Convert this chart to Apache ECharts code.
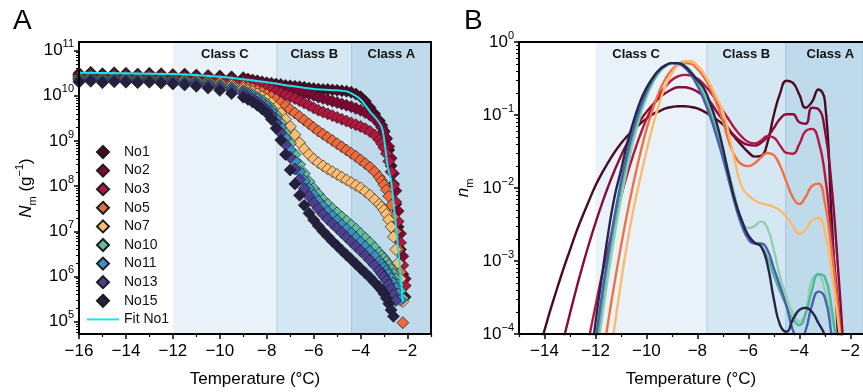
<!DOCTYPE html>
<html>
<head>
<meta charset="utf-8">
<script src="https://cdn.jsdelivr.net/npm/echarts@6.0.0/dist/echarts.min.js"></script>
<style>
  html, body { margin: 0; padding: 0; background: #fff; }
  #chart { width: 863px; height: 392px; }
</style>
</head>
<body>
<div id="chart"></div>
<script>
const FONT = 'Liberation Sans, Arial, Helvetica, sans-serif';

const seriesNames = ['No1', 'No2', 'No3', 'No5', 'No7', 'No10', 'No11', 'No13', 'No15'];
const colorsA = ['#4a0a24', '#850636', '#b3173f', '#ec6a3c', '#fdbd72', '#5dbf9f', '#3b8fc1', '#4b3f90', '#242040'];
const colorsB = ['#4a0a24', '#8a0a3a', '#b3173f', '#f0703f', '#fdb96c', '#8fd1ae', '#52b59c', '#4a5fae', '#27264a'];
const fitColor = '#14e6ef';

// ---- panel A: log10 of N_m (g^-1) against temperature ----
const aTemp = [-16, -15.5, -15, -14.5, -14, -13.5, -13, -12.5, -12, -11.5, -11, -10.5, -10, -9.5, -9,
  -8.8, -8.6, -8.4, -8.2, -8.0, -7.8, -7.6, -7.4, -7.2, -7.0, -6.8, -6.6, -6.4, -6.2, -6.0,
  -5.8, -5.6, -5.4, -5.2, -5.0, -4.8, -4.6, -4.4, -4.2, -4.0, -3.8, -3.6, -3.4, -3.2,
  -3.1, -3.0, -2.9, -2.8, -2.7, -2.6, -2.5, -2.4, -2.3, -2.2, -2.1, -2.0];

const aNo1 = [10.50, 10.52, 10.49, 10.51, 10.50, 10.48, 10.50, 10.49, 10.47, 10.48, 10.46, 10.45, 10.44, 10.42, 10.40,
  10.37, 10.35, 10.33, 10.31, 10.29, 10.28, 10.26, 10.25, 10.23, 10.22, 10.21, 10.20, 10.19, 10.17, 10.16,
  10.15, 10.14, 10.14, 10.13, 10.12, 10.11, 10.10, 10.08, 10.04, 9.98, 9.88, 9.74, 9.60, 9.45,
  9.35, 9.22, 9.05, 8.80, 8.45, 8.05, 7.60, 7.10, 6.60, 6.05, 5.55, null];
const aNo2 = [10.47, 10.49, 10.46, 10.48, 10.47, 10.46, 10.47, 10.45, 10.44, 10.44, 10.42, 10.41, 10.39, 10.37, 10.35,
  10.33, 10.31, 10.29, 10.27, 10.25, 10.23, 10.21, 10.19, 10.16, 10.14, 10.11, 10.09, 10.06, 10.04, 10.01,
  9.97, 9.94, 9.91, 9.88, 9.85, 9.82, 9.79, 9.76, 9.72, 9.68, 9.63, 9.57, 9.49, 9.38,
  9.30, 9.20, 9.06, 8.88, 8.62, 8.28, 7.90, 7.45, 6.95, 6.45, 5.95, null];
const aNo3 = [10.45, 10.47, 10.44, 10.46, 10.45, 10.44, 10.45, 10.43, 10.42, 10.41, 10.40, 10.38, 10.36, 10.33, 10.30,
  10.28, 10.26, 10.24, 10.21, 10.18, 10.14, 10.10, 10.06, 10.02, 9.98, 9.94, 9.89, 9.84, 9.79, 9.73,
  9.68, 9.64, 9.60, 9.56, 9.52, 9.48, 9.44, 9.40, 9.36, 9.32, 9.27, 9.21, 9.13, 9.02,
  8.94, 8.85, 8.72, 8.55, 8.32, 8.02, 7.65, 7.22, 6.75, 6.25, 5.80, null];
const aNo5 = [10.42, 10.44, 10.41, 10.43, 10.42, 10.41, 10.42, 10.40, 10.39, 10.38, 10.36, 10.34, 10.31, 10.27, 10.22,
  10.19, 10.16, 10.12, 10.08, 10.03, 9.98, 9.92, 9.85, 9.78, 9.70, 9.62, 9.54, 9.46, 9.38, 9.30,
  9.22, 9.15, 9.08, 9.01, 8.94, 8.87, 8.80, 8.73, 8.66, 8.58, 8.50, 8.42, 8.32, 8.20,
  8.12, 8.03, 7.92, 7.78, 7.58, 7.32, 7.00, 6.60, 6.10, 4.98, null, null];
const aNo7 = [10.40, 10.42, 10.39, 10.41, 10.40, 10.39, 10.40, 10.38, 10.37, 10.36, 10.34, 10.31, 10.28, 10.23, 10.17,
  10.13, 10.09, 10.04, 9.98, 9.92, 9.84, 9.74, 9.62, 9.48, 9.32, 9.14, 8.96, 8.82, 8.70, 8.60,
  8.52, 8.45, 8.38, 8.32, 8.26, 8.20, 8.14, 8.08, 8.02, 7.96, 7.88, 7.80, 7.70, 7.60,
  7.54, 7.47, 7.38, 7.26, 7.10, 6.88, 6.60, 6.30, 5.95, 5.45, null, null];
const aNo10 = [10.38, 10.40, 10.37, 10.39, 10.38, 10.37, 10.38, 10.36, 10.35, 10.33, 10.31, 10.28, 10.24, 10.19, 10.12,
  10.08, 10.03, 9.97, 9.90, 9.82, 9.72, 9.58, 9.40, 9.18, 8.94, 8.70, 8.48, 8.28, 8.10, 7.95,
  7.82, 7.70, 7.60, 7.50, 7.41, 7.32, 7.23, 7.14, 7.05, 6.95, 6.85, 6.75, 6.64, 6.52,
  6.46, 6.40, 6.33, 6.25, 6.16, 6.06, 5.95, 5.82, 5.68, 5.52, null, null];
const aNo11 = [10.36, 10.38, 10.35, 10.37, 10.36, 10.35, 10.36, 10.34, 10.33, 10.31, 10.29, 10.26, 10.22, 10.16, 10.09,
  10.04, 9.99, 9.93, 9.85, 9.77, 9.66, 9.50, 9.30, 9.06, 8.80, 8.55, 8.32, 8.12, 7.95, 7.80,
  7.67, 7.55, 7.44, 7.34, 7.24, 7.14, 7.05, 6.96, 6.86, 6.76, 6.66, 6.56, 6.45, 6.33,
  6.27, 6.20, 6.13, 6.05, 5.96, 5.86, 5.75, 5.62, 5.48, null, null, null];
const aNo13 = [10.33, 10.35, 10.32, 10.34, 10.33, 10.32, 10.33, 10.31, 10.30, 10.28, 10.26, 10.22, 10.18, 10.12, 10.05,
  9.99, 9.93, 9.86, 9.78, 9.69, 9.57, 9.40, 9.18, 8.92, 8.64, 8.38, 8.15, 7.95, 7.78, 7.63,
  7.50, 7.38, 7.27, 7.17, 7.07, 6.97, 6.87, 6.77, 6.67, 6.57, 6.47, 6.36, 6.25, 6.13,
  6.06, 5.99, 5.91, 5.82, 5.72, 5.60, 5.47, null, null, null, null, null];
const aNo15 = [10.30, 10.32, 10.29, 10.31, 10.30, 10.29, 10.30, 10.28, 10.26, 10.24, 10.21, 10.17, 10.12, 10.05, 9.97,
  9.92, 9.86, 9.79, 9.71, 9.62, 9.48, 9.28, 9.02, 8.70, 8.36, 8.05, 7.80, 7.58, 7.40, 7.25,
  7.12, 7.00, 6.89, 6.78, 6.68, 6.58, 6.48, 6.38, 6.28, 6.18, 6.08, 5.98, 5.87, 5.76,
  5.70, 5.62, 5.52, 5.40, 5.26, 5.12, null, null, null, null, null, null];

const fitTemp = [-16, -14, -12, -10, -8, -7, -6, -5, -4.5, -4, -3.6, -3.3, -3.1, -3.0, -2.85, -2.7, -2.5, -2.3, -2.2];
const fitLog = [10.51, 10.50, 10.48, 10.42, 10.30, 10.22, 10.15, 10.12, 10.08, 9.92, 9.65, 9.47, 9.30, 9.05, 8.45, 8.10, 7.15, 6.05, 5.45];

// ---- panel B: log10 of n_m against temperature ----
const bTemp = [-15, -14.75, -14.5, -14.25, -14, -13.75, -13.5, -13.25, -13, -12.75, -12.5, -12.25, -12, -11.75,
  -11.5, -11.25, -11, -10.75, -10.5, -10.25, -10, -9.75, -9.5, -9.25, -9, -8.75, -8.5, -8.25,
  -8, -7.75, -7.5, -7.25, -7, -6.75, -6.5, -6.25, -6, -5.75, -5.5, -5.25, -5, -4.75,
  -4.5, -4.25, -4, -3.75, -3.5, -3.25, -3, -2.75, -2.5, -2.25, -2, -1.75];

const bNo1 = [-5.2, -4.9, -4.55, -4.25, -3.95, -3.65, -3.37, -3.1, -2.85, -2.6, -2.38, -2.17, -1.97, -1.8,
  -1.65, -1.51, -1.39, -1.29, -1.2, -1.12, -1.05, -0.99, -0.95, -0.91, -0.89, -0.88, -0.88, -0.89,
  -0.91, -0.95, -1.0, -1.06, -1.13, -1.22, -1.32, -1.42, -1.51, -1.57, -1.56, -1.38, -1.0, -0.7,
  -0.53, -0.56, -0.72, -0.9, -0.82, -0.65, -0.8, -2.3, -3.9, -5.5, null, null];
const bNo2 = [null, null, null, null, -5.3, -4.85, -4.45, -4.07, -3.72, -3.38, -3.06, -2.76, -2.48, -2.22,
  -1.98, -1.76, -1.56, -1.38, -1.22, -1.08, -0.96, -0.86, -0.77, -0.7, -0.65, -0.62, -0.62, -0.64,
  -0.68, -0.74, -0.82, -0.95, -1.07, -1.2, -1.3, -1.37, -1.41, -1.42, -1.38, -1.3, -1.18, -1.05,
  -0.99, -0.99, -1.1, -1.12, -0.9, -0.92, -1.2, -1.9, -3.0, -4.3, -6.0, null];
const bNo3 = [null, null, null, null, null, null, null, null, null, -5.0, -4.5, -4.05, -3.62, -3.2,
  -2.82, -2.46, -2.12, -1.81, -1.53, -1.28, -1.06, -0.88, -0.73, -0.61, -0.52, -0.47, -0.45, -0.46,
  -0.5, -0.58, -0.68, -0.8, -0.94, -1.07, -1.2, -1.3, -1.37, -1.39, -1.35, -1.29, -1.31, -1.42,
  -1.52, -1.53, -1.4, -1.22, -1.19, -1.35, -1.8, -2.6, -3.5, -4.5, -6.0, null];
const bNo5 = [null, null, null, null, null, null, null, null, null, null, null, null, -5.0, -4.4,
  -3.83, -3.3, -2.8, -2.34, -1.92, -1.54, -1.2, -0.92, -0.68, -0.5, -0.38, -0.31, -0.29, -0.3,
  -0.37, -0.48, -0.63, -0.84, -1.08, -1.38, -1.58, -1.68, -1.7, -1.66, -1.58, -1.52, -1.55, -1.7,
  -1.92, -2.13, -2.22, -2.12, -1.97, -1.94, -2.2, -2.8, -3.6, -4.6, -6.0, null];
const bNo7 = [null, null, null, null, null, null, null, null, null, null, null, null, null, -5.1,
  -4.5, -3.9, -3.3, -2.75, -2.28, -1.88, -1.5, -1.15, -0.85, -0.6, -0.43, -0.31, -0.26, -0.26,
  -0.32, -0.43, -0.58, -0.76, -0.95, -1.28, -1.68, -1.99, -2.1, -2.17, -2.21, -2.23, -2.26, -2.31,
  -2.4, -2.52, -2.63, -2.57, -2.44, -2.41, -2.6, -3.1, -3.75, -4.6, -5.8, null];
const bNo10 = [null, null, null, null, null, null, null, null, null, null, null, -5.0, -4.45, -3.8,
  -3.2, -2.65, -2.15, -1.72, -1.34, -1.02, -0.76, -0.56, -0.42, -0.33, -0.29, -0.29, -0.32, -0.4,
  -0.53, -0.7, -0.92, -1.18, -1.47, -1.8, -2.15, -2.45, -2.55, -2.52, -2.46, -2.55, -2.85, -3.22,
  -3.5, -3.72, -3.83, -3.7, -3.25, -3.2, -3.4, -3.75, -4.2, -5.0, null, null];
const bNo11 = [null, null, null, null, null, null, null, null, null, null, null, -4.9, -4.25, -3.6,
  -3.0, -2.48, -2.0, -1.59, -1.24, -0.95, -0.72, -0.54, -0.41, -0.33, -0.29, -0.29, -0.33, -0.42,
  -0.56, -0.74, -0.97, -1.24, -1.54, -1.86, -2.2, -2.5, -2.65, -2.75, -2.8, -2.95, -3.2, -3.42,
  -3.62, -3.8, -3.88, -3.72, -3.4, -3.18, -3.22, -3.6, -4.3, -5.2, null, null];
const bNo13 = [null, null, null, null, null, null, null, null, null, null, null, -4.75, -4.1, -3.48,
  -2.9, -2.38, -1.92, -1.52, -1.18, -0.9, -0.68, -0.51, -0.39, -0.32, -0.29, -0.3, -0.35, -0.45,
  -0.6, -0.79, -1.02, -1.29, -1.59, -1.92, -2.25, -2.52, -2.7, -2.76, -2.76, -2.85, -3.1, -3.35,
  -3.62, -3.95, -4.12, -3.95, -3.6, -3.42, -3.5, -3.98, -4.7, null, null, null];
const bNo15 = [null, null, null, null, null, null, null, null, null, null, -5.3, -4.55, -3.85, -3.22,
  -2.62, -2.12, -1.76, -1.38, -1.08, -0.82, -0.63, -0.49, -0.38, -0.32, -0.29, -0.29, -0.33, -0.42,
  -0.52, -0.63, -0.84, -1.1, -1.45, -1.85, -2.2, -2.45, -2.65, -2.75, -2.8, -3.05, -3.52, -3.88,
  -3.97, -3.8, -3.67, -3.64, -3.7, -3.85, -4.02, -4.4, null, null, null, null];

// ---- axes, ticks and class bands ----
const aXTicks = [-16, -14, -12, -10, -8, -6, -4, -2];
const aXMinor = [-15, -13, -11, -9, -7, -5, -3, -1];
const aYTicks = [5, 6, 7, 8, 9, 10, 11];
const bXTicks = [-14, -12, -10, -8, -6, -4, -2];
const bXMinor = [-15, -13, -11, -9, -7, -5, -3];
const bYTicks = [-4, -3, -2, -1, 0];
const aClasses = [['Class C', -12, -7.57], ['Class B', -7.57, -4.38], ['Class A', -4.38, -1]];
const bClasses = [['Class C', -12, -7.63], ['Class B', -7.63, -4.53], ['Class A', -4.53, -1.5]];
const bandColors = ['#e9f2f9', '#d5e7f3', '#bedaeb'];

const aSeries = [aNo1, aNo2, aNo3, aNo5, aNo7, aNo10, aNo11, aNo13, aNo15];
const bSeries = [bNo1, bNo2, bNo3, bNo5, bNo7, bNo10, bNo11, bNo13, bNo15];

function pairs(xs, ys) {
  const out = [];
  xs.forEach((x, i) => { if (ys[i] != null) out.push([x, ys[i]]); });
  return out;
}
function minorLog(major, lo, hi) {
  const out = [];
  major.forEach((m) => {
    for (let k = 2; k <= 9; k++) {
      const v = m - 1 + Math.log10(k);
      if (v > lo && v < hi) out.push(v);
    }
  });
  return out;
}
const minus = (v) => (v < 0 ? '\u2212' + Math.abs(v) : String(v));
const powLabel = (v) => '{b|10}{s|' + minus(Math.round(v)) + '}';

const black = '#000';
const powRich = {
  b: { fontSize: 17, fontFamily: FONT, color: black, lineHeight: 24 },
  s: { fontSize: 11, fontFamily: FONT, color: black, lineHeight: 13, verticalAlign: 'top' },
};
const nameRich = {
  i: { fontSize: 17, fontFamily: FONT, fontStyle: 'italic', color: black, lineHeight: 24 },
  n: { fontSize: 17, fontFamily: FONT, color: black, lineHeight: 24 },
  sub: { fontSize: 11, fontFamily: FONT, color: black, lineHeight: 12, verticalAlign: 'bottom' },
  sup: { fontSize: 11, fontFamily: FONT, color: black, lineHeight: 13, verticalAlign: 'top' },
};

const aYMin = 4.73, aYMax = 11.19;
const diamondIcon = 'path://M5 0 L10 5 L5 10 L0 5 Z';
const lineIcon = 'path://M0 0 L32 0 L32 2 L0 2 Z';

function mainX(grid, min, max, ticks) {
  return {
    gridIndex: grid, type: 'value', min, max, position: 'bottom', z: 5,
    axisLine: { show: true, onZero: false, lineStyle: { color: black, width: 2 } },
    axisTick: { show: true, length: 5, customValues: ticks, lineStyle: { color: black, width: 1.5 } },
    axisLabel: { show: true, customValues: ticks, formatter: minus, color: black, fontSize: 17, fontFamily: FONT, margin: 9 },
    splitLine: { show: false },
    name: 'Temperature (\u00B0C)', nameLocation: 'middle', nameGap: 37,
    nameTextStyle: { color: black, fontSize: 17, fontFamily: FONT },
  };
}
function minorX(grid, min, max, ticks) {
  return {
    gridIndex: grid, type: 'value', min, max, position: 'bottom', z: 5,
    axisLine: { show: false, onZero: false },
    axisTick: { show: true, length: 3, customValues: ticks, lineStyle: { color: black, width: 1.2 } },
    axisLabel: { show: false }, splitLine: { show: false },
  };
}
function frameX(grid, min, max) {
  return {
    gridIndex: grid, type: 'value', min, max, position: 'top', z: 5,
    axisLine: { show: true, onZero: false, lineStyle: { color: black, width: 2 } },
    axisTick: { show: false }, axisLabel: { show: false }, splitLine: { show: false },
  };
}
function mainY(grid, min, max, ticks, name, gap) {
  return {
    gridIndex: grid, type: 'value', min, max, position: 'left', z: 5,
    axisLine: { show: true, onZero: false, lineStyle: { color: black, width: 2 } },
    axisTick: { show: true, length: 5, customValues: ticks, lineStyle: { color: black, width: 1.5 } },
    axisLabel: { show: true, customValues: ticks, formatter: powLabel, rich: powRich, margin: 5 },
    splitLine: { show: false },
    name, nameLocation: 'middle', nameGap: gap, nameRotate: 90,
    nameTextStyle: { rich: nameRich },
  };
}
function minorY(grid, min, max, ticks) {
  return {
    gridIndex: grid, type: 'value', min, max, position: 'left', z: 5,
    axisLine: { show: false, onZero: false },
    axisTick: { show: true, length: 3, customValues: ticks, lineStyle: { color: black, width: 1 } },
    axisLabel: { show: false }, splitLine: { show: false },
  };
}
function frameY(grid, min, max) {
  return {
    gridIndex: grid, type: 'value', min, max, position: 'right', z: 5,
    axisLine: { show: true, onZero: false, lineStyle: { color: black, width: 2 } },
    axisTick: { show: false }, axisLabel: { show: false }, splitLine: { show: false },
  };
}
function bands(classes, offsets) {
  return {
    silent: true,
    data: classes.map(([label, from, to], i) => [
      {
        xAxis: from, name: label,
        itemStyle: { color: bandColors[i], borderColor: i === 0 ? bandColors[i] : 'rgba(150,185,212,0.55)', borderWidth: i === 0 ? 0 : 1 },
        label: { show: true, position: 'insideTop', distance: 6, offset: [offsets[i], 0], color: '#111', fontSize: 13, fontWeight: 'bold', fontFamily: FONT },
      },
      { xAxis: to },
    ]),
  };
}

const series = [];
seriesNames.forEach((name, i) => {
  series.push({
    type: 'scatter', name, xAxisIndex: 0, yAxisIndex: 0,
    data: pairs(aTemp, aSeries[i]),
    symbol: 'diamond', symbolSize: 12, clip: true,
    itemStyle: { color: colorsA[i], borderColor: '#1c1c1c', borderWidth: 0.7, opacity: 1 },
    markArea: i === 0 ? bands(aClasses, [0, 0, 0]) : undefined,
  });
});
series.push({
  type: 'line', name: 'Fit No1', xAxisIndex: 0, yAxisIndex: 0, z: 4,
  data: pairs(fitTemp, fitLog), smooth: 0.2, showSymbol: false, symbol: 'none',
  lineStyle: { color: fitColor, width: 2 }, itemStyle: { color: fitColor },
});
seriesNames.forEach((name, i) => {
  series.push({
    type: 'line', name: 'B ' + name, xAxisIndex: 3, yAxisIndex: 3,
    data: pairs(bTemp, bSeries[i]), smooth: 0.5, showSymbol: false, symbol: 'none', clip: true,
    lineStyle: { color: colorsB[i], width: 2.4 }, itemStyle: { color: colorsB[i] },
    markArea: i === 0 ? bands(bClasses, [-15, 0, 6]) : undefined,
  });
});

const legendData = seriesNames.map((name) => ({ name, icon: diamondIcon }));
legendData.push({ name: 'Fit No1', icon: lineIcon, itemStyle: { color: fitColor, borderWidth: 0 } });

const chart = echarts.init(document.getElementById('chart'), null, { renderer: 'canvas' });
chart.setOption({
  animation: false,
  backgroundColor: '#fff',
  textStyle: { fontFamily: FONT },
  title: [
    { text: 'A', left: 8, top: 2, textStyle: { fontSize: 28, fontWeight: 'normal', color: black, fontFamily: FONT } },
    { text: 'B', left: 459, top: 2, textStyle: { fontSize: 28, fontWeight: 'normal', color: black, fontFamily: FONT } },
  ],
  legend: {
    data: legendData,
    orient: 'vertical', left: 87, top: 145, padding: 0,
    itemWidth: 32, itemHeight: 12, itemGap: 4.6, symbolKeepAspect: true,
    textStyle: { color: '#111', fontSize: 14, fontFamily: FONT },
    selectedMode: false,
  },
  grid: [
    { left: 79, top: 42, right: 432, bottom: 58, outerBoundsMode: 'none' },
    { left: 519, top: 42, right: 0, bottom: 58, outerBoundsMode: 'none' },
  ],
  xAxis: [
    mainX(0, -16, -1, aXTicks), minorX(0, -16, -1, aXMinor), frameX(0, -16, -1),
    mainX(1, -15, -1.5, bXTicks), minorX(1, -15, -1.5, bXMinor), frameX(1, -15, -1.5),
  ],
  yAxis: [
    mainY(0, aYMin, aYMax, aYTicks, '{i|N}{sub|m}{n| (g}{sup|\u22121}{n|)}', 41),
    minorY(0, aYMin, aYMax, minorLog(aYTicks.concat([12]), aYMin, aYMax)),
    frameY(0, aYMin, aYMax),
    mainY(1, -4, 0, bYTicks, '{i|n}{sub|m}', 44),
    minorY(1, -4, 0, minorLog(bYTicks, -4, 0)),
  ],
  series,
});
</script>
</body>
</html>
